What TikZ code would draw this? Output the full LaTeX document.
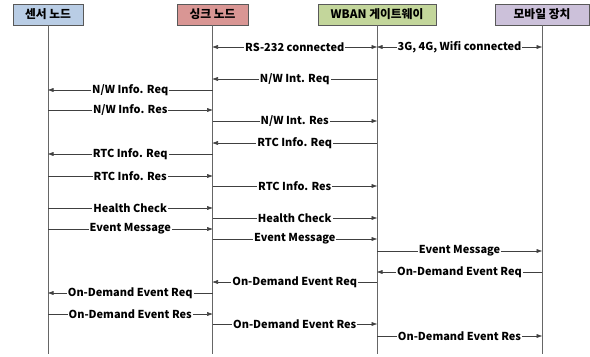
\documentclass[tikz,border=0pt]{standalone}
\usepackage{fontspec}
\setmainfont{Noto Sans CJK KR}
\usetikzlibrary{arrows.meta}

\definecolor{senblue}{HTML}{B9CDE5}
\definecolor{snkred}{HTML}{D99694}
\definecolor{gwgreen}{HTML}{C3D69B}
\definecolor{mobpurple}{HTML}{CCC1DA}

\begin{document}
\begin{tikzpicture}[x=1bp, y=-1bp, font=\bfseries\fontsize{11}{13}\selectfont,
  head/.style={draw=black!65, line width=0.8pt, minimum height=21bp, inner sep=0pt,
    font=\bfseries\fontsize{11.8}{14}\selectfont},
  life/.style={draw=black!60, line width=0.7pt},
  msg/.style={draw=black!75, line width=0.6pt, -{Triangle[length=5.5bp,width=3.8bp]}},
  both/.style={msg, {Triangle[length=5.5bp,width=3.8bp]}-{Triangle[length=5.5bp,width=3.8bp]}},
  lbl/.style={fill=white, inner sep=1pt}]
\useasboundingbox (0,0) rectangle (590,356);
% lifeline heads
\node[head, fill=senblue, minimum width=70bp] (sen) at (48,14.5) {센서 노드};
\node[head, fill=snkred, minimum width=71bp] (snk) at (212.5,14.5) {싱크 노드};
\node[head, fill=gwgreen, minimum width=118bp] (gw) at (377,14.5) {WBAN 게이트웨이};
\node[head, fill=mobpurple, minimum width=94bp] (mob) at (542,14.5) {모바일 장치};
\coordinate (sen-e) at (48,354);
\coordinate (snk-e) at (212.5,354);
\coordinate (gw-e) at (377,354);
\coordinate (mob-e) at (542,354);
\draw[life] (sen) -- (sen-e);
\draw[life] (snk) -- (snk-e);
\draw[life] (gw) -- (gw-e);
\draw[life] (mob) -- (mob-e);
% connection setup
\draw[both] (snk |- 0,47) -- node[lbl]{RS-232 connected} (gw |- 0,47);
\draw[both] (gw |- 0,47) -- node[lbl]{3G, 4G, Wifi connected} (mob |- 0,47);
% network info
\draw[msg] (gw |- 0,79) -- node[lbl]{N/W Int. Req} (snk |- 0,79);
\draw[msg] (snk |- 0,90) -- node[lbl]{N/W Info. Req} (sen |- 0,90);
\draw[msg] (sen |- 0,110) -- node[lbl]{N/W Info. Res} (snk |- 0,110);
\draw[msg] (snk |- 0,121) -- node[lbl]{N/W Int. Res} (gw |- 0,121);
% RTC info
\draw[msg] (gw |- 0,143) -- node[lbl]{RTC Info. Req} (snk |- 0,143);
\draw[msg] (snk |- 0,154) -- node[lbl]{RTC Info. Req} (sen |- 0,154);
\draw[msg] (sen |- 0,176) -- node[lbl]{RTC Info. Res} (snk |- 0,176);
\draw[msg] (snk |- 0,186) -- node[lbl]{RTC Info. Res} (gw |- 0,186);
% health check and events
\draw[msg] (sen |- 0,208) -- node[lbl]{Health Check} (snk |- 0,208);
\draw[msg] (snk |- 0,218) -- node[lbl]{Health Check} (gw |- 0,218);
\draw[msg] (sen |- 0,229) -- node[lbl]{Event Message} (snk |- 0,229);
\draw[msg] (snk |- 0,239) -- node[lbl]{Event Message} (gw |- 0,239);
\draw[msg] (gw |- 0,251) -- node[lbl]{Event Message} (mob |- 0,251);
% on-demand
\draw[msg] (mob |- 0,272) -- node[lbl]{On-Demand Event Req} (gw |- 0,272);
\draw[msg] (gw |- 0,282) -- node[lbl]{On-Demand Event Req} (snk |- 0,282);
\draw[msg] (snk |- 0,293) -- node[lbl]{On-Demand Event Req} (sen |- 0,293);
\draw[msg] (sen |- 0,314) -- node[lbl]{On-Demand Event Res} (snk |- 0,314);
\draw[msg] (snk |- 0,324) -- node[lbl]{On-Demand Event Res} (gw |- 0,324);
\draw[msg] (gw |- 0,336) -- node[lbl]{On-Demand Event Res} (mob |- 0,336);
\end{tikzpicture}
\end{document}
